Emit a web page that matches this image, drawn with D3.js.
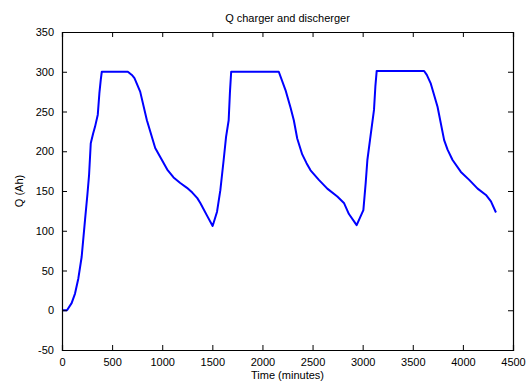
<!DOCTYPE html>
<html>
<head>
<meta charset="utf-8">
<script src="https://cdn.jsdelivr.net/npm/d3@7"></script>
<style>
body { margin: 0; background: #fff; }
svg text { font-family: "Liberation Sans", Arial, sans-serif; font-size: 11px; fill: #000; }
</style>
</head>
<body>
<svg width="532" height="383"></svg>
<script>
// data
const time = [0, 50, 96, 130, 163, 196, 230, 253, 270, 287, 310, 330, 357, 373, 387, 397,
	657, 697, 723, 780, 847, 930, 997, 1050, 1113, 1180, 1247, 1300, 1350, 1380, 1447, 1503,
	1547, 1580, 1613, 1637, 1663, 1676, 1688,
	2163, 2230, 2280, 2313, 2347, 2397, 2440, 2480, 2563, 2647, 2747, 2813, 2863, 2940,
	3007, 3030, 3047, 3073, 3113, 3127, 3140,
	3613, 3640, 3680, 3747, 3813, 3847, 3897, 3980, 4063, 4147, 4230, 4280, 4330]
const charge = [0, 0, 9, 21, 40, 67, 114, 145, 170, 210, 222, 231, 246, 273, 290, 300,
	300, 296, 292, 275, 239, 204, 189, 177, 167, 160, 154, 148, 141, 135, 119, 106,
	124, 151, 189, 218, 239, 275, 300,
	300, 277, 255, 239, 216, 196, 185, 176, 164, 153, 143, 135, 121, 107,
	126, 160, 189, 214, 252, 282, 301,
	301, 296, 285, 256, 214, 202, 189, 174, 164, 153, 145, 137, 123]
const xTicks = [0, 500, 1000, 1500, 2000, 2500, 3000, 3500, 4000, 4500]
const yTicks = [-50, 0, 50, 100, 150, 200, 250, 300, 350]

const data = time.map((t,i)=>{ return {t: t, q: charge[i]} })

const svg = d3.select("svg")

const mLeft = 62, mRight = 513, mTop = 32, mBottom = 350

const x = d3.scaleLinear().domain([0, 4500]).range([mLeft, mRight])
const y = d3.scaleLinear().domain([-50, 350]).range([mBottom, mTop])

//curve
const line = d3.line()
	.x(d => x(d.t))
	.y(d => y(d.q))

svg.append("path")
	.datum(data)
	.attr("d", line)
	.attr("fill", "none")
	.attr("stroke", "#0000ff")
	.attr("stroke-width", 2)
	.attr("stroke-linejoin", "round")

// plain hyphen for negatives, like matlab
const fmt = d => String(d)

//axes, ticks pointing inward
svg.append("g").attr("transform", `translate(0,${mBottom})`)
	.call(d3.axisBottom(x).tickValues(xTicks).tickSize(-5).tickPadding(8).tickFormat(fmt))
svg.append("g").attr("transform", `translate(0,${mTop})`)
	.call(d3.axisTop(x).tickValues(xTicks).tickSize(-5).tickFormat(""))
svg.append("g").attr("transform", `translate(${mLeft},0)`)
	.call(d3.axisLeft(y).tickValues(yTicks).tickSize(-5).tickPadding(8).tickFormat(fmt))
svg.append("g").attr("transform", `translate(${mRight},0)`)
	.call(d3.axisRight(y).tickValues(yTicks).tickSize(-5).tickFormat(""))

svg.selectAll(".domain").attr("stroke", "#000").attr("stroke-width", 1.2)
svg.selectAll(".tick line").attr("stroke", "#000")
svg.selectAll(".tick text")
	.style("font-family", "'Liberation Sans', Arial, sans-serif")
	.style("font-size", "11px")

//labels
svg.append("text")
	.attr("x", (mLeft + mRight) / 2)
	.attr("y", 22)
	.attr("text-anchor", "middle")
	.text("Q charger and discherger")

svg.append("text")
	.attr("x", (mLeft + mRight) / 2)
	.attr("y", 379)
	.attr("text-anchor", "middle")
	.text("Time (minutes)")

svg.append("text")
	.attr("transform", `translate(23,${(mTop + mBottom) / 2}) rotate(-90)`)
	.attr("text-anchor", "middle")
	.text("Q (Ah)")
</script>
</body>
</html>
